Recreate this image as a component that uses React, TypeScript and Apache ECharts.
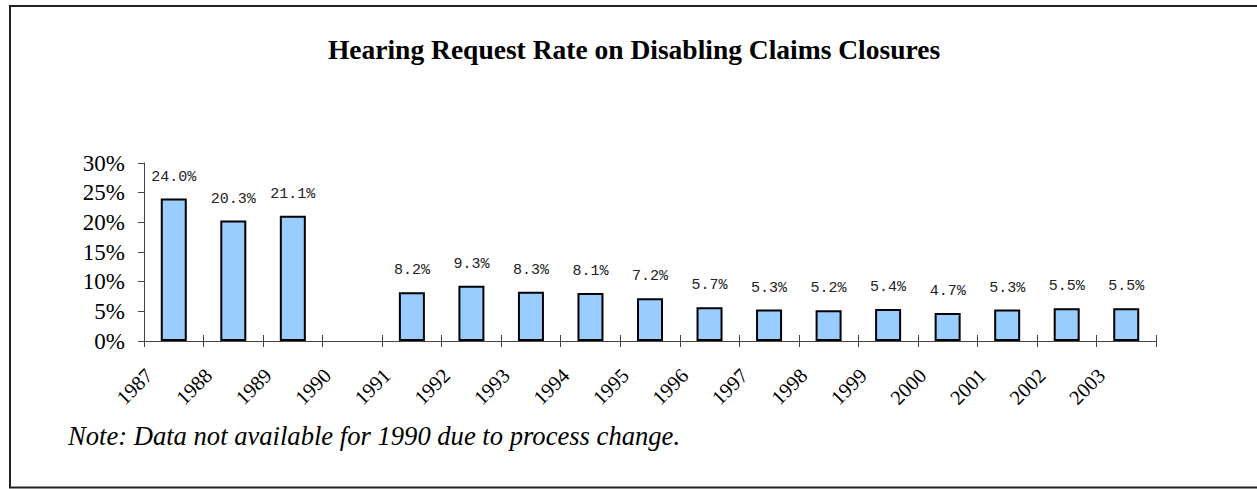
import React, { useEffect, useRef } from "react";
import * as echarts from "echarts";

const years = ["1987","1988","1989","1990","1991","1992","1993","1994","1995","1996","1997","1998","1999","2000","2001","2002","2003"];
const rates: (number | null)[] = [24.0, 20.3, 21.1, null, 8.2, 9.3, 8.3, 8.1, 7.2, 5.7, 5.3, 5.2, 5.4, 4.7, 5.3, 5.5, 5.5];
const tickLabels = [...years, ""];
const titleText = "Hearing Request Rate on Disabling Claims Closures";
const noteText = "Note: Data not available for 1990 due to process change.";

export default function App() {
  const ref = useRef<HTMLDivElement>(null);
  useEffect(() => {
    if (!ref.current) return;
    const chart = echarts.init(ref.current, null, { renderer: "svg" });
    const axisColor = "#444";
    chart.setOption({
      animation: false,
      backgroundColor: "#fff",
      grid: [
        { left: 144, right: 101, top: 163, bottom: 148 },
        { left: 149, right: 96, top: 163, bottom: 148 },
      ],
      xAxis: [
        {
          type: "category", gridIndex: 0, data: years, boundaryGap: true, position: "bottom",
          axisLine: { show: true, lineStyle: { color: axisColor, width: 1 } },
          axisTick: { show: true, length: 6, lineStyle: { color: axisColor, width: 1 } },
          axisLabel: { show: false },
        },
        {
          type: "category", gridIndex: 0, data: tickLabels, boundaryGap: false, position: "bottom",
          axisLine: { show: false },
          axisTick: { show: true, inside: true, length: 6, interval: 0, lineStyle: { color: axisColor, width: 1 } },
          axisLabel: { show: false },
        },
        {
          type: "category", gridIndex: 1, data: tickLabels, boundaryGap: false, position: "bottom",
          axisLine: { show: false },
          axisTick: { show: false },
          axisLabel: {
            show: true, interval: 0, rotate: 45, margin: 31,
            fontFamily: "Liberation Serif", fontSize: 20.5, color: "#000",
          },
        },
      ],
      yAxis: [
        {
          type: "value", gridIndex: 0, min: 0, max: 30, interval: 5,
          axisLine: { show: true, lineStyle: { color: axisColor, width: 1 } },
          axisTick: { show: true, length: 6, lineStyle: { color: axisColor, width: 1 } },
          splitLine: { show: false },
          axisLabel: {
            formatter: "{value}%", margin: 19,
            fontFamily: "Liberation Serif", fontSize: 23, color: "#000",
          },
        },
        { type: "value", gridIndex: 1, min: 0, max: 30, show: false, splitLine: { show: false } },
      ],
      series: [
        {
          type: "bar", xAxisIndex: 0, yAxisIndex: 0, data: rates, barWidth: 26,
          itemStyle: { color: "#99CCFF", borderColor: "#000", borderWidth: 2 },
          label: {
            show: true, position: "top", distance: 14,
            formatter: (p: any) => (p.value == null ? "" : Number(p.value).toFixed(1) + "%"),
            fontFamily: "Liberation Mono", fontSize: 15, color: "#222",
          },
        },
      ],
      graphic: [
        {
          type: "rect", shape: { x: 10, y: 6, width: 1270, height: 481.5 },
          style: { fill: "none", stroke: "#222", lineWidth: 2 }, silent: true,
        },
        {
          type: "text", x: 634, y: 49,
          style: {
            text: titleText, fontFamily: "Liberation Serif", fontWeight: "bold", fontSize: 27.5,
            fill: "#000", align: "center", verticalAlign: "middle",
          },
        },
        {
          type: "text", x: 68, y: 436,
          style: {
            text: noteText, fontFamily: "Liberation Serif", fontStyle: "italic", fontSize: 26.6,
            fill: "#000", align: "left", verticalAlign: "middle",
          },
        },
      ],
    });
    return () => chart.dispose();
  }, []);
  return (
    <div
      ref={ref}
      style={{ position: "fixed", left: 0, top: 0, width: 1257, height: 489, background: "#fff" }}
    />
  );
}
